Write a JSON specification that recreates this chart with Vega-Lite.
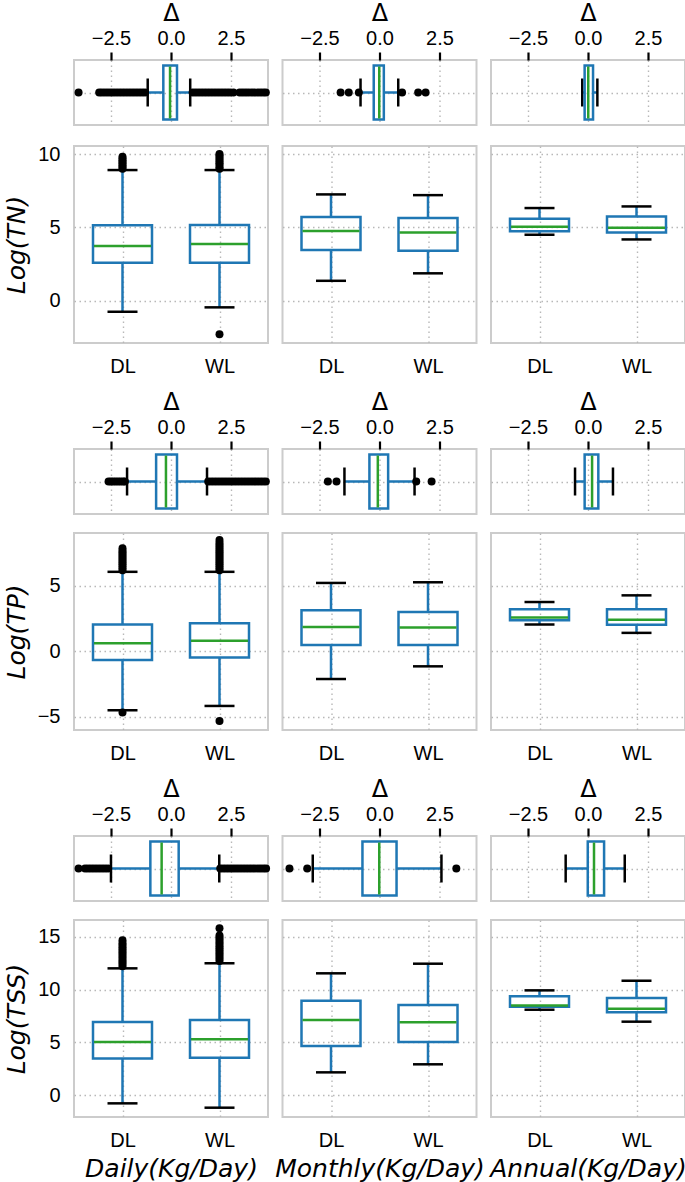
{
"$schema": "https://vega.github.io/schema/vega-lite/v6.json",
"background": "white",
"padding": {"left": 3, "top": 0, "right": 0, "bottom": 0},
"config": {
  "view": {"stroke": "#cccccc", "strokeWidth": 2},
  "tick": {"opacity": 1},
  "axis": {"labelFont": "Liberation Sans", "labelFontSize": 20, "labelColor": "black", "titleFont": "DejaVu Sans", "titleFontSize": 25, "titleFontStyle": "italic", "titleFontWeight": "normal", "titleColor": "black", "gridColor": "#b8b8b8", "gridDash": [1.5, 3.5], "gridWidth": 1.4, "domain": false, "ticks": false, "tickSize": 0}
},
"datasets": {
  "stats": [
    {"v":"TN","f":"D","g":"DL","lw":-0.75,"q1":2.59,"med":3.73,"q3":5.14,"uw":8.91},
    {"v":"TN","f":"D","g":"WL","lw":-0.45,"q1":2.59,"med":3.87,"q3":5.16,"uw":8.91},
    {"v":"TN","f":"D","g":"d","lw":-0.97,"q1":-0.32,"med":-0.04,"q3":0.25,"uw":0.80},
    {"v":"TN","f":"M","g":"DL","lw":1.36,"q1":3.46,"med":4.75,"q3":5.71,"uw":7.25},
    {"v":"TN","f":"M","g":"WL","lw":1.87,"q1":3.41,"med":4.66,"q3":5.64,"uw":7.20},
    {"v":"TN","f":"M","g":"d","lw":-0.79,"q1":-0.24,"med":-0.01,"q3":0.18,"uw":0.78},
    {"v":"TN","f":"A","g":"DL","lw":4.50,"q1":4.73,"med":5.05,"q3":5.59,"uw":6.32},
    {"v":"TN","f":"A","g":"WL","lw":4.18,"q1":4.66,"med":4.98,"q3":5.75,"uw":6.43},
    {"v":"TN","f":"A","g":"d","lw":-0.24,"q1":-0.14,"med":0.01,"q3":0.21,"uw":0.39},
    {"v":"TP","f":"D","g":"DL","lw":-4.51,"q1":-0.66,"med":0.62,"q3":2.05,"uw":6.08},
    {"v":"TP","f":"D","g":"WL","lw":-4.18,"q1":-0.48,"med":0.80,"q3":2.15,"uw":6.08},
    {"v":"TP","f":"D","g":"d","lw":-1.83,"q1":-0.62,"med":-0.21,"q3":0.25,"uw":1.50},
    {"v":"TP","f":"M","g":"DL","lw":-2.12,"q1":0.49,"med":1.85,"q3":3.15,"uw":5.23},
    {"v":"TP","f":"M","g":"WL","lw":-1.15,"q1":0.49,"med":1.82,"q3":3.00,"uw":5.28},
    {"v":"TP","f":"M","g":"d","lw":-1.46,"q1":-0.42,"med":-0.07,"q3":0.36,"uw":1.46},
    {"v":"TP","f":"A","g":"DL","lw":2.05,"q1":2.38,"med":2.59,"q3":3.21,"uw":3.77},
    {"v":"TP","f":"A","g":"WL","lw":1.41,"q1":2.03,"med":2.41,"q3":3.21,"uw":4.28},
    {"v":"TP","f":"A","g":"d","lw":-0.54,"q1":-0.14,"med":0.17,"q3":0.43,"uw":1.04},
    {"v":"TSS","f":"D","g":"DL","lw":-0.76,"q1":3.49,"med":5.04,"q3":6.93,"uw":12.0},
    {"v":"TSS","f":"D","g":"WL","lw":-1.17,"q1":3.56,"med":5.29,"q3":7.12,"uw":12.48},
    {"v":"TSS","f":"D","g":"d","lw":-2.50,"q1":-0.86,"med":-0.39,"q3":0.32,"uw":2.01},
    {"v":"TSS","f":"M","g":"DL","lw":2.17,"q1":4.66,"med":7.12,"q3":8.94,"uw":11.53},
    {"v":"TSS","f":"M","g":"WL","lw":2.93,"q1":5.04,"med":6.90,"q3":8.53,"uw":12.44},
    {"v":"TSS","f":"M","g":"d","lw":-2.78,"q1":-0.71,"med":-0.01,"q3":0.71,"uw":2.58},
    {"v":"TSS","f":"A","g":"DL","lw":8.09,"q1":8.38,"med":8.50,"q3":9.36,"uw":9.92},
    {"v":"TSS","f":"A","g":"WL","lw":6.96,"q1":7.84,"med":8.19,"q3":9.20,"uw":10.83},
    {"v":"TSS","f":"A","g":"d","lw":-0.93,"q1":-0.01,"med":0.25,"q3":0.67,"uw":1.53}
  ],
  "out": [
    {"v":"TN","f":"D","g":"DL","val":9.0},{"v":"TN","f":"D","g":"DL","val":9.12},{"v":"TN","f":"D","g":"DL","val":9.22},{"v":"TN","f":"D","g":"DL","val":9.35},{"v":"TN","f":"D","g":"DL","val":9.46},{"v":"TN","f":"D","g":"DL","val":9.58},{"v":"TN","f":"D","g":"DL","val":9.7},{"v":"TN","f":"D","g":"DL","val":9.82},
    {"v":"TN","f":"D","g":"WL","val":9.0},{"v":"TN","f":"D","g":"WL","val":9.1},{"v":"TN","f":"D","g":"WL","val":9.25},{"v":"TN","f":"D","g":"WL","val":9.38},{"v":"TN","f":"D","g":"WL","val":9.5},{"v":"TN","f":"D","g":"WL","val":9.63},{"v":"TN","f":"D","g":"WL","val":9.77},{"v":"TN","f":"D","g":"WL","val":9.9},{"v":"TN","f":"D","g":"WL","val":10.0},{"v":"TN","f":"D","g":"WL","val":-2.29},
    {"v":"TN","f":"D","g":"d","val":-3.85},{"v":"TN","f":"D","g":"d","val":-2.99},{"v":"TN","f":"D","g":"d","val":-2.88},{"v":"TN","f":"D","g":"d","val":-2.76},{"v":"TN","f":"D","g":"d","val":-2.64},{"v":"TN","f":"D","g":"d","val":-2.52},{"v":"TN","f":"D","g":"d","val":-2.4},{"v":"TN","f":"D","g":"d","val":-2.28},{"v":"TN","f":"D","g":"d","val":-2.16},{"v":"TN","f":"D","g":"d","val":-2.04},{"v":"TN","f":"D","g":"d","val":-1.92},{"v":"TN","f":"D","g":"d","val":-1.8},{"v":"TN","f":"D","g":"d","val":-1.68},{"v":"TN","f":"D","g":"d","val":-1.56},{"v":"TN","f":"D","g":"d","val":-1.44},{"v":"TN","f":"D","g":"d","val":-1.32},{"v":"TN","f":"D","g":"d","val":-1.2},{"v":"TN","f":"D","g":"d","val":-1.08},
    {"v":"TN","f":"D","g":"d","val":0.9},{"v":"TN","f":"D","g":"d","val":1.02},{"v":"TN","f":"D","g":"d","val":1.14},{"v":"TN","f":"D","g":"d","val":1.26},{"v":"TN","f":"D","g":"d","val":1.38},{"v":"TN","f":"D","g":"d","val":1.5},{"v":"TN","f":"D","g":"d","val":1.62},{"v":"TN","f":"D","g":"d","val":1.74},{"v":"TN","f":"D","g":"d","val":1.86},{"v":"TN","f":"D","g":"d","val":1.98},{"v":"TN","f":"D","g":"d","val":2.1},{"v":"TN","f":"D","g":"d","val":2.22},{"v":"TN","f":"D","g":"d","val":2.34},{"v":"TN","f":"D","g":"d","val":2.46},{"v":"TN","f":"D","g":"d","val":2.6},{"v":"TN","f":"D","g":"d","val":2.86},{"v":"TN","f":"D","g":"d","val":2.98},{"v":"TN","f":"D","g":"d","val":3.1},{"v":"TN","f":"D","g":"d","val":3.22},{"v":"TN","f":"D","g":"d","val":3.35},{"v":"TN","f":"D","g":"d","val":3.47},{"v":"TN","f":"D","g":"d","val":3.6},{"v":"TN","f":"D","g":"d","val":3.72},{"v":"TN","f":"D","g":"d","val":3.84},{"v":"TN","f":"D","g":"d","val":3.95},
    {"v":"TN","f":"M","g":"d","val":-1.62},{"v":"TN","f":"M","g":"d","val":-1.28},{"v":"TN","f":"M","g":"d","val":-0.86},{"v":"TN","f":"M","g":"d","val":0.94},{"v":"TN","f":"M","g":"d","val":1.61},{"v":"TN","f":"M","g":"d","val":1.92},
    {"v":"TP","f":"D","g":"DL","val":6.2},{"v":"TP","f":"D","g":"DL","val":6.35},{"v":"TP","f":"D","g":"DL","val":6.5},{"v":"TP","f":"D","g":"DL","val":6.65},{"v":"TP","f":"D","g":"DL","val":6.8},{"v":"TP","f":"D","g":"DL","val":6.95},{"v":"TP","f":"D","g":"DL","val":7.1},{"v":"TP","f":"D","g":"DL","val":7.25},{"v":"TP","f":"D","g":"DL","val":7.4},{"v":"TP","f":"D","g":"DL","val":7.55},{"v":"TP","f":"D","g":"DL","val":7.7},{"v":"TP","f":"D","g":"DL","val":7.88},{"v":"TP","f":"D","g":"DL","val":-4.69},
    {"v":"TP","f":"D","g":"WL","val":6.2},{"v":"TP","f":"D","g":"WL","val":6.35},{"v":"TP","f":"D","g":"WL","val":6.5},{"v":"TP","f":"D","g":"WL","val":6.65},{"v":"TP","f":"D","g":"WL","val":6.8},{"v":"TP","f":"D","g":"WL","val":6.95},{"v":"TP","f":"D","g":"WL","val":7.1},{"v":"TP","f":"D","g":"WL","val":7.25},{"v":"TP","f":"D","g":"WL","val":7.4},{"v":"TP","f":"D","g":"WL","val":7.55},{"v":"TP","f":"D","g":"WL","val":7.7},{"v":"TP","f":"D","g":"WL","val":7.85},{"v":"TP","f":"D","g":"WL","val":8.0},{"v":"TP","f":"D","g":"WL","val":8.15},{"v":"TP","f":"D","g":"WL","val":8.3},{"v":"TP","f":"D","g":"WL","val":8.52},{"v":"TP","f":"D","g":"WL","val":-5.33},
    {"v":"TP","f":"D","g":"d","val":-2.6},{"v":"TP","f":"D","g":"d","val":-2.5},{"v":"TP","f":"D","g":"d","val":-2.4},{"v":"TP","f":"D","g":"d","val":-2.3},{"v":"TP","f":"D","g":"d","val":-2.2},{"v":"TP","f":"D","g":"d","val":-2.1},{"v":"TP","f":"D","g":"d","val":-2.0},{"v":"TP","f":"D","g":"d","val":-1.92},
    {"v":"TP","f":"D","g":"d","val":1.55},{"v":"TP","f":"D","g":"d","val":1.67},{"v":"TP","f":"D","g":"d","val":1.79},{"v":"TP","f":"D","g":"d","val":1.91},{"v":"TP","f":"D","g":"d","val":2.03},{"v":"TP","f":"D","g":"d","val":2.15},{"v":"TP","f":"D","g":"d","val":2.27},{"v":"TP","f":"D","g":"d","val":2.39},{"v":"TP","f":"D","g":"d","val":2.51},{"v":"TP","f":"D","g":"d","val":2.63},{"v":"TP","f":"D","g":"d","val":2.75},{"v":"TP","f":"D","g":"d","val":2.87},{"v":"TP","f":"D","g":"d","val":2.99},{"v":"TP","f":"D","g":"d","val":3.11},{"v":"TP","f":"D","g":"d","val":3.23},{"v":"TP","f":"D","g":"d","val":3.35},{"v":"TP","f":"D","g":"d","val":3.47},{"v":"TP","f":"D","g":"d","val":3.59},{"v":"TP","f":"D","g":"d","val":3.71},{"v":"TP","f":"D","g":"d","val":3.83},{"v":"TP","f":"D","g":"d","val":3.95},
    {"v":"TP","f":"M","g":"d","val":-2.15},{"v":"TP","f":"M","g":"d","val":-1.79},{"v":"TP","f":"M","g":"d","val":1.53},{"v":"TP","f":"M","g":"d","val":2.17},
    {"v":"TSS","f":"D","g":"DL","val":12.2},{"v":"TSS","f":"D","g":"DL","val":12.4},{"v":"TSS","f":"D","g":"DL","val":12.6},{"v":"TSS","f":"D","g":"DL","val":12.8},{"v":"TSS","f":"D","g":"DL","val":13.0},{"v":"TSS","f":"D","g":"DL","val":13.2},{"v":"TSS","f":"D","g":"DL","val":13.4},{"v":"TSS","f":"D","g":"DL","val":13.6},{"v":"TSS","f":"D","g":"DL","val":13.8},{"v":"TSS","f":"D","g":"DL","val":14.0},{"v":"TSS","f":"D","g":"DL","val":14.2},{"v":"TSS","f":"D","g":"DL","val":14.4},{"v":"TSS","f":"D","g":"DL","val":14.65},
    {"v":"TSS","f":"D","g":"WL","val":12.7},{"v":"TSS","f":"D","g":"WL","val":12.9},{"v":"TSS","f":"D","g":"WL","val":13.1},{"v":"TSS","f":"D","g":"WL","val":13.3},{"v":"TSS","f":"D","g":"WL","val":13.5},{"v":"TSS","f":"D","g":"WL","val":13.7},{"v":"TSS","f":"D","g":"WL","val":13.9},{"v":"TSS","f":"D","g":"WL","val":14.1},{"v":"TSS","f":"D","g":"WL","val":14.3},{"v":"TSS","f":"D","g":"WL","val":14.5},{"v":"TSS","f":"D","g":"WL","val":14.7},{"v":"TSS","f":"D","g":"WL","val":14.9},{"v":"TSS","f":"D","g":"WL","val":15.1},{"v":"TSS","f":"D","g":"WL","val":15.78},
    {"v":"TSS","f":"D","g":"d","val":-3.85},{"v":"TSS","f":"D","g":"d","val":-3.58},{"v":"TSS","f":"D","g":"d","val":-3.46},{"v":"TSS","f":"D","g":"d","val":-3.34},{"v":"TSS","f":"D","g":"d","val":-3.22},{"v":"TSS","f":"D","g":"d","val":-3.1},{"v":"TSS","f":"D","g":"d","val":-2.98},{"v":"TSS","f":"D","g":"d","val":-2.86},{"v":"TSS","f":"D","g":"d","val":-2.74},{"v":"TSS","f":"D","g":"d","val":-2.62},
    {"v":"TSS","f":"D","g":"d","val":2.05},{"v":"TSS","f":"D","g":"d","val":2.17},{"v":"TSS","f":"D","g":"d","val":2.29},{"v":"TSS","f":"D","g":"d","val":2.41},{"v":"TSS","f":"D","g":"d","val":2.53},{"v":"TSS","f":"D","g":"d","val":2.65},{"v":"TSS","f":"D","g":"d","val":2.77},{"v":"TSS","f":"D","g":"d","val":2.89},{"v":"TSS","f":"D","g":"d","val":3.01},{"v":"TSS","f":"D","g":"d","val":3.13},{"v":"TSS","f":"D","g":"d","val":3.25},{"v":"TSS","f":"D","g":"d","val":3.37},{"v":"TSS","f":"D","g":"d","val":3.49},{"v":"TSS","f":"D","g":"d","val":3.61},{"v":"TSS","f":"D","g":"d","val":3.73},{"v":"TSS","f":"D","g":"d","val":3.85},{"v":"TSS","f":"D","g":"d","val":3.96},
    {"v":"TSS","f":"M","g":"d","val":-3.75},{"v":"TSS","f":"M","g":"d","val":-3.01},{"v":"TSS","f":"M","g":"d","val":3.2}
  ]
},
"spacing": 12,
"vconcat": [
 {"spacing": 17, "vconcat": [
  {"bounds": "flush", "spacing": 14.5, "hconcat": [
   {"width":194,"height":65,"data":{"name":"stats"},"transform":[{"filter":"datum.v=='TN' && datum.f=='D' && datum.g=='d'"}],
    "encoding":{"y":{"field":"g","type":"nominal","scale":{"type":"point","padding":0.5},"axis":{"title":null,"labels":false,"grid":true}}},
    "layer":[
     {"mark":{"type":"rule","color":"#1f77b4","strokeWidth":2.5},"encoding":{"x":{"field":"lw","type":"quantitative","scale":{"domain":[-4.04,4.04],"nice":false,"zero":false},"axis":{"orient":"top","title":"Δ","titleFontStyle":"normal","titleFontSize":24,"values":[-2.5,0,2.5],"format":".1f","ticks":true,"tickSize":8,"tickWidth":2.2,"tickColor":"black","labelPadding":4,"titlePadding":3,"grid":true}},"x2":{"field":"q1"}}},
     {"mark":{"type":"rule","color":"#1f77b4","strokeWidth":2.5},"encoding":{"x":{"field":"q3","type":"quantitative"},"x2":{"field":"uw"}}},
     {"mark":{"type":"tick","color":"black","size":28,"thickness":2.5},"encoding":{"x":{"field":"lw","type":"quantitative"}}},
     {"mark":{"type":"tick","color":"black","size":28,"thickness":2.5},"encoding":{"x":{"field":"uw","type":"quantitative"}}},
     {"mark":{"type":"bar","size":54,"fill":"white","fillOpacity":0,"stroke":"#1f77b4","strokeWidth":2.5},"encoding":{"x":{"field":"q1","type":"quantitative"},"x2":{"field":"q3"}}},
     {"mark":{"type":"tick","color":"#2ca02c","size":52,"thickness":2.5},"encoding":{"x":{"field":"med","type":"quantitative"}}},
     {"data":{"name":"out"},"transform":[{"filter":"datum.v=='TN' && datum.f=='D' && datum.g=='d'"}],"mark":{"type":"circle","color":"black","size":64,"opacity":1},"encoding":{"x":{"field":"val","type":"quantitative"}}}
    ]},
   {"width":194,"height":65,"data":{"name":"stats"},"transform":[{"filter":"datum.v=='TN' && datum.f=='M' && datum.g=='d'"}],
    "encoding":{"y":{"field":"g","type":"nominal","scale":{"type":"point","padding":0.5},"axis":{"title":null,"labels":false,"grid":true}}},
    "layer":[
     {"mark":{"type":"rule","color":"#1f77b4","strokeWidth":2.5},"encoding":{"x":{"field":"lw","type":"quantitative","scale":{"domain":[-4.04,4.04],"nice":false,"zero":false},"axis":{"orient":"top","title":"Δ","titleFontStyle":"normal","titleFontSize":24,"values":[-2.5,0,2.5],"format":".1f","ticks":true,"tickSize":8,"tickWidth":2.2,"tickColor":"black","labelPadding":4,"titlePadding":3,"grid":true}},"x2":{"field":"q1"}}},
     {"mark":{"type":"rule","color":"#1f77b4","strokeWidth":2.5},"encoding":{"x":{"field":"q3","type":"quantitative"},"x2":{"field":"uw"}}},
     {"mark":{"type":"tick","color":"black","size":28,"thickness":2.5},"encoding":{"x":{"field":"lw","type":"quantitative"}}},
     {"mark":{"type":"tick","color":"black","size":28,"thickness":2.5},"encoding":{"x":{"field":"uw","type":"quantitative"}}},
     {"mark":{"type":"bar","size":54,"fill":"white","fillOpacity":0,"stroke":"#1f77b4","strokeWidth":2.5},"encoding":{"x":{"field":"q1","type":"quantitative"},"x2":{"field":"q3"}}},
     {"mark":{"type":"tick","color":"#2ca02c","size":52,"thickness":2.5},"encoding":{"x":{"field":"med","type":"quantitative"}}},
     {"data":{"name":"out"},"transform":[{"filter":"datum.v=='TN' && datum.f=='M' && datum.g=='d'"}],"mark":{"type":"circle","color":"black","size":64,"opacity":1},"encoding":{"x":{"field":"val","type":"quantitative"}}}
    ]},
   {"width":194,"height":65,"data":{"name":"stats"},"transform":[{"filter":"datum.v=='TN' && datum.f=='A' && datum.g=='d'"}],
    "encoding":{"y":{"field":"g","type":"nominal","scale":{"type":"point","padding":0.5},"axis":{"title":null,"labels":false,"grid":true}}},
    "layer":[
     {"mark":{"type":"rule","color":"#1f77b4","strokeWidth":2.5},"encoding":{"x":{"field":"lw","type":"quantitative","scale":{"domain":[-4.04,4.04],"nice":false,"zero":false},"axis":{"orient":"top","title":"Δ","titleFontStyle":"normal","titleFontSize":24,"values":[-2.5,0,2.5],"format":".1f","ticks":true,"tickSize":8,"tickWidth":2.2,"tickColor":"black","labelPadding":4,"titlePadding":3,"grid":true}},"x2":{"field":"q1"}}},
     {"mark":{"type":"rule","color":"#1f77b4","strokeWidth":2.5},"encoding":{"x":{"field":"q3","type":"quantitative"},"x2":{"field":"uw"}}},
     {"mark":{"type":"tick","color":"black","size":28,"thickness":2.5},"encoding":{"x":{"field":"lw","type":"quantitative"}}},
     {"mark":{"type":"tick","color":"black","size":28,"thickness":2.5},"encoding":{"x":{"field":"uw","type":"quantitative"}}},
     {"mark":{"type":"bar","size":54,"fill":"white","fillOpacity":0,"stroke":"#1f77b4","strokeWidth":2.5},"encoding":{"x":{"field":"q1","type":"quantitative"},"x2":{"field":"q3"}}},
     {"mark":{"type":"tick","color":"#2ca02c","size":52,"thickness":2.5},"encoding":{"x":{"field":"med","type":"quantitative"}}}
    ]}
  ]},
  {"bounds": "flush", "spacing": 14.5, "hconcat": [
   {"width":194,"height":197,"data":{"name":"stats"},"transform":[{"filter":"datum.v=='TN' && datum.f=='D' && datum.g!='d'"}],
    "encoding":{"x":{"field":"g","type":"nominal","scale":{"type":"point","padding":0.5,"domain":["DL","WL"]},"axis":{"title":null,"labelAngle":0,"labelPadding":13,"grid":true}}},
    "layer":[
     {"mark":{"type":"rule","color":"#1f77b4","strokeWidth":2.5},"encoding":{"y":{"field":"lw","type":"quantitative","scale":{"domain":[-2.88,10.55],"nice":false,"zero":false},"axis":{"values":[0,5,10],"format":"d","title":"Log(TN)","minExtent":35,"maxExtent":35,"titlePadding":10,"labelPadding":14,"grid":true}},"y2":{"field":"q1"}}},
     {"mark":{"type":"rule","color":"#1f77b4","strokeWidth":2.5},"encoding":{"y":{"field":"q3","type":"quantitative"},"y2":{"field":"uw"}}},
     {"mark":{"type":"tick","color":"black","size":30,"thickness":2.5},"encoding":{"y":{"field":"lw","type":"quantitative"}}},
     {"mark":{"type":"tick","color":"black","size":30,"thickness":2.5},"encoding":{"y":{"field":"uw","type":"quantitative"}}},
     {"mark":{"type":"bar","size":59,"fill":"white","fillOpacity":0,"stroke":"#1f77b4","strokeWidth":2.5},"encoding":{"y":{"field":"q1","type":"quantitative"},"y2":{"field":"q3"}}},
     {"mark":{"type":"tick","color":"#2ca02c","size":57,"thickness":2.5},"encoding":{"y":{"field":"med","type":"quantitative"}}},
     {"data":{"name":"out"},"transform":[{"filter":"datum.v=='TN' && datum.f=='D' && datum.g!='d'"}],"mark":{"type":"circle","color":"black","size":64,"opacity":1},"encoding":{"y":{"field":"val","type":"quantitative"}}}
    ]},
   {"width":194,"height":197,"data":{"name":"stats"},"transform":[{"filter":"datum.v=='TN' && datum.f=='M' && datum.g!='d'"}],
    "encoding":{"x":{"field":"g","type":"nominal","scale":{"type":"point","padding":0.5,"domain":["DL","WL"]},"axis":{"title":null,"labelAngle":0,"labelPadding":13,"grid":true}}},
    "layer":[
     {"mark":{"type":"rule","color":"#1f77b4","strokeWidth":2.5},"encoding":{"y":{"field":"lw","type":"quantitative","scale":{"domain":[-2.88,10.55],"nice":false,"zero":false},"axis":{"values":[0,5,10],"labels":false,"title":null,"grid":true}},"y2":{"field":"q1"}}},
     {"mark":{"type":"rule","color":"#1f77b4","strokeWidth":2.5},"encoding":{"y":{"field":"q3","type":"quantitative"},"y2":{"field":"uw"}}},
     {"mark":{"type":"tick","color":"black","size":30,"thickness":2.5},"encoding":{"y":{"field":"lw","type":"quantitative"}}},
     {"mark":{"type":"tick","color":"black","size":30,"thickness":2.5},"encoding":{"y":{"field":"uw","type":"quantitative"}}},
     {"mark":{"type":"bar","size":59,"fill":"white","fillOpacity":0,"stroke":"#1f77b4","strokeWidth":2.5},"encoding":{"y":{"field":"q1","type":"quantitative"},"y2":{"field":"q3"}}},
     {"mark":{"type":"tick","color":"#2ca02c","size":57,"thickness":2.5},"encoding":{"y":{"field":"med","type":"quantitative"}}}
    ]},
   {"width":194,"height":197,"data":{"name":"stats"},"transform":[{"filter":"datum.v=='TN' && datum.f=='A' && datum.g!='d'"}],
    "encoding":{"x":{"field":"g","type":"nominal","scale":{"type":"point","padding":0.5,"domain":["DL","WL"]},"axis":{"title":null,"labelAngle":0,"labelPadding":13,"grid":true}}},
    "layer":[
     {"mark":{"type":"rule","color":"#1f77b4","strokeWidth":2.5},"encoding":{"y":{"field":"lw","type":"quantitative","scale":{"domain":[-2.88,10.55],"nice":false,"zero":false},"axis":{"values":[0,5,10],"labels":false,"title":null,"grid":true}},"y2":{"field":"q1"}}},
     {"mark":{"type":"rule","color":"#1f77b4","strokeWidth":2.5},"encoding":{"y":{"field":"q3","type":"quantitative"},"y2":{"field":"uw"}}},
     {"mark":{"type":"tick","color":"black","size":30,"thickness":2.5},"encoding":{"y":{"field":"lw","type":"quantitative"}}},
     {"mark":{"type":"tick","color":"black","size":30,"thickness":2.5},"encoding":{"y":{"field":"uw","type":"quantitative"}}},
     {"mark":{"type":"bar","size":59,"fill":"white","fillOpacity":0,"stroke":"#1f77b4","strokeWidth":2.5},"encoding":{"y":{"field":"q1","type":"quantitative"},"y2":{"field":"q3"}}},
     {"mark":{"type":"tick","color":"#2ca02c","size":57,"thickness":2.5},"encoding":{"y":{"field":"med","type":"quantitative"}}}
    ]}
  ]}
 ]},
 {"spacing": 17, "vconcat": [
  {"bounds": "flush", "spacing": 14.5, "hconcat": [
   {"width":194,"height":65,"data":{"name":"stats"},"transform":[{"filter":"datum.v=='TP' && datum.f=='D' && datum.g=='d'"}],
    "encoding":{"y":{"field":"g","type":"nominal","scale":{"type":"point","padding":0.5},"axis":{"title":null,"labels":false,"grid":true}}},
    "layer":[
     {"mark":{"type":"rule","color":"#1f77b4","strokeWidth":2.5},"encoding":{"x":{"field":"lw","type":"quantitative","scale":{"domain":[-4.04,4.04],"nice":false,"zero":false},"axis":{"orient":"top","title":"Δ","titleFontStyle":"normal","titleFontSize":24,"values":[-2.5,0,2.5],"format":".1f","ticks":true,"tickSize":8,"tickWidth":2.2,"tickColor":"black","labelPadding":4,"titlePadding":3,"grid":true}},"x2":{"field":"q1"}}},
     {"mark":{"type":"rule","color":"#1f77b4","strokeWidth":2.5},"encoding":{"x":{"field":"q3","type":"quantitative"},"x2":{"field":"uw"}}},
     {"mark":{"type":"tick","color":"black","size":28,"thickness":2.5},"encoding":{"x":{"field":"lw","type":"quantitative"}}},
     {"mark":{"type":"tick","color":"black","size":28,"thickness":2.5},"encoding":{"x":{"field":"uw","type":"quantitative"}}},
     {"mark":{"type":"bar","size":54,"fill":"white","fillOpacity":0,"stroke":"#1f77b4","strokeWidth":2.5},"encoding":{"x":{"field":"q1","type":"quantitative"},"x2":{"field":"q3"}}},
     {"mark":{"type":"tick","color":"#2ca02c","size":52,"thickness":2.5},"encoding":{"x":{"field":"med","type":"quantitative"}}},
     {"data":{"name":"out"},"transform":[{"filter":"datum.v=='TP' && datum.f=='D' && datum.g=='d'"}],"mark":{"type":"circle","color":"black","size":64,"opacity":1},"encoding":{"x":{"field":"val","type":"quantitative"}}}
    ]},
   {"width":194,"height":65,"data":{"name":"stats"},"transform":[{"filter":"datum.v=='TP' && datum.f=='M' && datum.g=='d'"}],
    "encoding":{"y":{"field":"g","type":"nominal","scale":{"type":"point","padding":0.5},"axis":{"title":null,"labels":false,"grid":true}}},
    "layer":[
     {"mark":{"type":"rule","color":"#1f77b4","strokeWidth":2.5},"encoding":{"x":{"field":"lw","type":"quantitative","scale":{"domain":[-4.04,4.04],"nice":false,"zero":false},"axis":{"orient":"top","title":"Δ","titleFontStyle":"normal","titleFontSize":24,"values":[-2.5,0,2.5],"format":".1f","ticks":true,"tickSize":8,"tickWidth":2.2,"tickColor":"black","labelPadding":4,"titlePadding":3,"grid":true}},"x2":{"field":"q1"}}},
     {"mark":{"type":"rule","color":"#1f77b4","strokeWidth":2.5},"encoding":{"x":{"field":"q3","type":"quantitative"},"x2":{"field":"uw"}}},
     {"mark":{"type":"tick","color":"black","size":28,"thickness":2.5},"encoding":{"x":{"field":"lw","type":"quantitative"}}},
     {"mark":{"type":"tick","color":"black","size":28,"thickness":2.5},"encoding":{"x":{"field":"uw","type":"quantitative"}}},
     {"mark":{"type":"bar","size":54,"fill":"white","fillOpacity":0,"stroke":"#1f77b4","strokeWidth":2.5},"encoding":{"x":{"field":"q1","type":"quantitative"},"x2":{"field":"q3"}}},
     {"mark":{"type":"tick","color":"#2ca02c","size":52,"thickness":2.5},"encoding":{"x":{"field":"med","type":"quantitative"}}},
     {"data":{"name":"out"},"transform":[{"filter":"datum.v=='TP' && datum.f=='M' && datum.g=='d'"}],"mark":{"type":"circle","color":"black","size":64,"opacity":1},"encoding":{"x":{"field":"val","type":"quantitative"}}}
    ]},
   {"width":194,"height":65,"data":{"name":"stats"},"transform":[{"filter":"datum.v=='TP' && datum.f=='A' && datum.g=='d'"}],
    "encoding":{"y":{"field":"g","type":"nominal","scale":{"type":"point","padding":0.5},"axis":{"title":null,"labels":false,"grid":true}}},
    "layer":[
     {"mark":{"type":"rule","color":"#1f77b4","strokeWidth":2.5},"encoding":{"x":{"field":"lw","type":"quantitative","scale":{"domain":[-4.04,4.04],"nice":false,"zero":false},"axis":{"orient":"top","title":"Δ","titleFontStyle":"normal","titleFontSize":24,"values":[-2.5,0,2.5],"format":".1f","ticks":true,"tickSize":8,"tickWidth":2.2,"tickColor":"black","labelPadding":4,"titlePadding":3,"grid":true}},"x2":{"field":"q1"}}},
     {"mark":{"type":"rule","color":"#1f77b4","strokeWidth":2.5},"encoding":{"x":{"field":"q3","type":"quantitative"},"x2":{"field":"uw"}}},
     {"mark":{"type":"tick","color":"black","size":28,"thickness":2.5},"encoding":{"x":{"field":"lw","type":"quantitative"}}},
     {"mark":{"type":"tick","color":"black","size":28,"thickness":2.5},"encoding":{"x":{"field":"uw","type":"quantitative"}}},
     {"mark":{"type":"bar","size":54,"fill":"white","fillOpacity":0,"stroke":"#1f77b4","strokeWidth":2.5},"encoding":{"x":{"field":"q1","type":"quantitative"},"x2":{"field":"q3"}}},
     {"mark":{"type":"tick","color":"#2ca02c","size":52,"thickness":2.5},"encoding":{"x":{"field":"med","type":"quantitative"}}}
    ]}
  ]},
  {"bounds": "flush", "spacing": 14.5, "hconcat": [
   {"width":194,"height":197,"data":{"name":"stats"},"transform":[{"filter":"datum.v=='TP' && datum.f=='D' && datum.g!='d'"}],
    "encoding":{"x":{"field":"g","type":"nominal","scale":{"type":"point","padding":0.5,"domain":["DL","WL"]},"axis":{"title":null,"labelAngle":0,"labelPadding":13,"grid":true}}},
    "layer":[
     {"mark":{"type":"rule","color":"#1f77b4","strokeWidth":2.5},"encoding":{"y":{"field":"lw","type":"quantitative","scale":{"domain":[-6.02,9.05],"nice":false,"zero":false},"axis":{"values":[-5,0,5],"format":"d","title":"Log(TP)","minExtent":35,"maxExtent":35,"titlePadding":10,"labelPadding":14,"grid":true}},"y2":{"field":"q1"}}},
     {"mark":{"type":"rule","color":"#1f77b4","strokeWidth":2.5},"encoding":{"y":{"field":"q3","type":"quantitative"},"y2":{"field":"uw"}}},
     {"mark":{"type":"tick","color":"black","size":30,"thickness":2.5},"encoding":{"y":{"field":"lw","type":"quantitative"}}},
     {"mark":{"type":"tick","color":"black","size":30,"thickness":2.5},"encoding":{"y":{"field":"uw","type":"quantitative"}}},
     {"mark":{"type":"bar","size":59,"fill":"white","fillOpacity":0,"stroke":"#1f77b4","strokeWidth":2.5},"encoding":{"y":{"field":"q1","type":"quantitative"},"y2":{"field":"q3"}}},
     {"mark":{"type":"tick","color":"#2ca02c","size":57,"thickness":2.5},"encoding":{"y":{"field":"med","type":"quantitative"}}},
     {"data":{"name":"out"},"transform":[{"filter":"datum.v=='TP' && datum.f=='D' && datum.g!='d'"}],"mark":{"type":"circle","color":"black","size":64,"opacity":1},"encoding":{"y":{"field":"val","type":"quantitative"}}}
    ]},
   {"width":194,"height":197,"data":{"name":"stats"},"transform":[{"filter":"datum.v=='TP' && datum.f=='M' && datum.g!='d'"}],
    "encoding":{"x":{"field":"g","type":"nominal","scale":{"type":"point","padding":0.5,"domain":["DL","WL"]},"axis":{"title":null,"labelAngle":0,"labelPadding":13,"grid":true}}},
    "layer":[
     {"mark":{"type":"rule","color":"#1f77b4","strokeWidth":2.5},"encoding":{"y":{"field":"lw","type":"quantitative","scale":{"domain":[-6.02,9.05],"nice":false,"zero":false},"axis":{"values":[-5,0,5],"labels":false,"title":null,"grid":true}},"y2":{"field":"q1"}}},
     {"mark":{"type":"rule","color":"#1f77b4","strokeWidth":2.5},"encoding":{"y":{"field":"q3","type":"quantitative"},"y2":{"field":"uw"}}},
     {"mark":{"type":"tick","color":"black","size":30,"thickness":2.5},"encoding":{"y":{"field":"lw","type":"quantitative"}}},
     {"mark":{"type":"tick","color":"black","size":30,"thickness":2.5},"encoding":{"y":{"field":"uw","type":"quantitative"}}},
     {"mark":{"type":"bar","size":59,"fill":"white","fillOpacity":0,"stroke":"#1f77b4","strokeWidth":2.5},"encoding":{"y":{"field":"q1","type":"quantitative"},"y2":{"field":"q3"}}},
     {"mark":{"type":"tick","color":"#2ca02c","size":57,"thickness":2.5},"encoding":{"y":{"field":"med","type":"quantitative"}}}
    ]},
   {"width":194,"height":197,"data":{"name":"stats"},"transform":[{"filter":"datum.v=='TP' && datum.f=='A' && datum.g!='d'"}],
    "encoding":{"x":{"field":"g","type":"nominal","scale":{"type":"point","padding":0.5,"domain":["DL","WL"]},"axis":{"title":null,"labelAngle":0,"labelPadding":13,"grid":true}}},
    "layer":[
     {"mark":{"type":"rule","color":"#1f77b4","strokeWidth":2.5},"encoding":{"y":{"field":"lw","type":"quantitative","scale":{"domain":[-6.02,9.05],"nice":false,"zero":false},"axis":{"values":[-5,0,5],"labels":false,"title":null,"grid":true}},"y2":{"field":"q1"}}},
     {"mark":{"type":"rule","color":"#1f77b4","strokeWidth":2.5},"encoding":{"y":{"field":"q3","type":"quantitative"},"y2":{"field":"uw"}}},
     {"mark":{"type":"tick","color":"black","size":30,"thickness":2.5},"encoding":{"y":{"field":"lw","type":"quantitative"}}},
     {"mark":{"type":"tick","color":"black","size":30,"thickness":2.5},"encoding":{"y":{"field":"uw","type":"quantitative"}}},
     {"mark":{"type":"bar","size":59,"fill":"white","fillOpacity":0,"stroke":"#1f77b4","strokeWidth":2.5},"encoding":{"y":{"field":"q1","type":"quantitative"},"y2":{"field":"q3"}}},
     {"mark":{"type":"tick","color":"#2ca02c","size":57,"thickness":2.5},"encoding":{"y":{"field":"med","type":"quantitative"}}}
    ]}
  ]}
 ]},
 {"spacing": 17, "vconcat": [
  {"bounds": "flush", "spacing": 14.5, "hconcat": [
   {"width":194,"height":65,"data":{"name":"stats"},"transform":[{"filter":"datum.v=='TSS' && datum.f=='D' && datum.g=='d'"}],
    "encoding":{"y":{"field":"g","type":"nominal","scale":{"type":"point","padding":0.5},"axis":{"title":null,"labels":false,"grid":true}}},
    "layer":[
     {"mark":{"type":"rule","color":"#1f77b4","strokeWidth":2.5},"encoding":{"x":{"field":"lw","type":"quantitative","scale":{"domain":[-4.04,4.04],"nice":false,"zero":false},"axis":{"orient":"top","title":"Δ","titleFontStyle":"normal","titleFontSize":24,"values":[-2.5,0,2.5],"format":".1f","ticks":true,"tickSize":8,"tickWidth":2.2,"tickColor":"black","labelPadding":4,"titlePadding":3,"grid":true}},"x2":{"field":"q1"}}},
     {"mark":{"type":"rule","color":"#1f77b4","strokeWidth":2.5},"encoding":{"x":{"field":"q3","type":"quantitative"},"x2":{"field":"uw"}}},
     {"mark":{"type":"tick","color":"black","size":28,"thickness":2.5},"encoding":{"x":{"field":"lw","type":"quantitative"}}},
     {"mark":{"type":"tick","color":"black","size":28,"thickness":2.5},"encoding":{"x":{"field":"uw","type":"quantitative"}}},
     {"mark":{"type":"bar","size":54,"fill":"white","fillOpacity":0,"stroke":"#1f77b4","strokeWidth":2.5},"encoding":{"x":{"field":"q1","type":"quantitative"},"x2":{"field":"q3"}}},
     {"mark":{"type":"tick","color":"#2ca02c","size":52,"thickness":2.5},"encoding":{"x":{"field":"med","type":"quantitative"}}},
     {"data":{"name":"out"},"transform":[{"filter":"datum.v=='TSS' && datum.f=='D' && datum.g=='d'"}],"mark":{"type":"circle","color":"black","size":64,"opacity":1},"encoding":{"x":{"field":"val","type":"quantitative"}}}
    ]},
   {"width":194,"height":65,"data":{"name":"stats"},"transform":[{"filter":"datum.v=='TSS' && datum.f=='M' && datum.g=='d'"}],
    "encoding":{"y":{"field":"g","type":"nominal","scale":{"type":"point","padding":0.5},"axis":{"title":null,"labels":false,"grid":true}}},
    "layer":[
     {"mark":{"type":"rule","color":"#1f77b4","strokeWidth":2.5},"encoding":{"x":{"field":"lw","type":"quantitative","scale":{"domain":[-4.04,4.04],"nice":false,"zero":false},"axis":{"orient":"top","title":"Δ","titleFontStyle":"normal","titleFontSize":24,"values":[-2.5,0,2.5],"format":".1f","ticks":true,"tickSize":8,"tickWidth":2.2,"tickColor":"black","labelPadding":4,"titlePadding":3,"grid":true}},"x2":{"field":"q1"}}},
     {"mark":{"type":"rule","color":"#1f77b4","strokeWidth":2.5},"encoding":{"x":{"field":"q3","type":"quantitative"},"x2":{"field":"uw"}}},
     {"mark":{"type":"tick","color":"black","size":28,"thickness":2.5},"encoding":{"x":{"field":"lw","type":"quantitative"}}},
     {"mark":{"type":"tick","color":"black","size":28,"thickness":2.5},"encoding":{"x":{"field":"uw","type":"quantitative"}}},
     {"mark":{"type":"bar","size":54,"fill":"white","fillOpacity":0,"stroke":"#1f77b4","strokeWidth":2.5},"encoding":{"x":{"field":"q1","type":"quantitative"},"x2":{"field":"q3"}}},
     {"mark":{"type":"tick","color":"#2ca02c","size":52,"thickness":2.5},"encoding":{"x":{"field":"med","type":"quantitative"}}},
     {"data":{"name":"out"},"transform":[{"filter":"datum.v=='TSS' && datum.f=='M' && datum.g=='d'"}],"mark":{"type":"circle","color":"black","size":64,"opacity":1},"encoding":{"x":{"field":"val","type":"quantitative"}}}
    ]},
   {"width":194,"height":65,"data":{"name":"stats"},"transform":[{"filter":"datum.v=='TSS' && datum.f=='A' && datum.g=='d'"}],
    "encoding":{"y":{"field":"g","type":"nominal","scale":{"type":"point","padding":0.5},"axis":{"title":null,"labels":false,"grid":true}}},
    "layer":[
     {"mark":{"type":"rule","color":"#1f77b4","strokeWidth":2.5},"encoding":{"x":{"field":"lw","type":"quantitative","scale":{"domain":[-4.04,4.04],"nice":false,"zero":false},"axis":{"orient":"top","title":"Δ","titleFontStyle":"normal","titleFontSize":24,"values":[-2.5,0,2.5],"format":".1f","ticks":true,"tickSize":8,"tickWidth":2.2,"tickColor":"black","labelPadding":4,"titlePadding":3,"grid":true}},"x2":{"field":"q1"}}},
     {"mark":{"type":"rule","color":"#1f77b4","strokeWidth":2.5},"encoding":{"x":{"field":"q3","type":"quantitative"},"x2":{"field":"uw"}}},
     {"mark":{"type":"tick","color":"black","size":28,"thickness":2.5},"encoding":{"x":{"field":"lw","type":"quantitative"}}},
     {"mark":{"type":"tick","color":"black","size":28,"thickness":2.5},"encoding":{"x":{"field":"uw","type":"quantitative"}}},
     {"mark":{"type":"bar","size":54,"fill":"white","fillOpacity":0,"stroke":"#1f77b4","strokeWidth":2.5},"encoding":{"x":{"field":"q1","type":"quantitative"},"x2":{"field":"q3"}}},
     {"mark":{"type":"tick","color":"#2ca02c","size":52,"thickness":2.5},"encoding":{"x":{"field":"med","type":"quantitative"}}}
    ]}
  ]},
  {"bounds": "flush", "spacing": 14.5, "hconcat": [
   {"width":194,"height":197,"data":{"name":"stats"},"transform":[{"filter":"datum.v=='TSS' && datum.f=='D' && datum.g!='d'"}],
    "encoding":{"x":{"field":"g","type":"nominal","scale":{"type":"point","padding":0.5,"domain":["DL","WL"]},"axis":{"title":"Daily(Kg/Day)","titlePadding":6,"labelAngle":0,"labelPadding":13,"grid":true}}},
    "layer":[
     {"mark":{"type":"rule","color":"#1f77b4","strokeWidth":2.5},"encoding":{"y":{"field":"lw","type":"quantitative","scale":{"domain":[-2.05,16.57],"nice":false,"zero":false},"axis":{"values":[0,5,10,15],"format":"d","title":"Log(TSS)","minExtent":35,"maxExtent":35,"titlePadding":10,"labelPadding":14,"grid":true}},"y2":{"field":"q1"}}},
     {"mark":{"type":"rule","color":"#1f77b4","strokeWidth":2.5},"encoding":{"y":{"field":"q3","type":"quantitative"},"y2":{"field":"uw"}}},
     {"mark":{"type":"tick","color":"black","size":30,"thickness":2.5},"encoding":{"y":{"field":"lw","type":"quantitative"}}},
     {"mark":{"type":"tick","color":"black","size":30,"thickness":2.5},"encoding":{"y":{"field":"uw","type":"quantitative"}}},
     {"mark":{"type":"bar","size":59,"fill":"white","fillOpacity":0,"stroke":"#1f77b4","strokeWidth":2.5},"encoding":{"y":{"field":"q1","type":"quantitative"},"y2":{"field":"q3"}}},
     {"mark":{"type":"tick","color":"#2ca02c","size":57,"thickness":2.5},"encoding":{"y":{"field":"med","type":"quantitative"}}},
     {"data":{"name":"out"},"transform":[{"filter":"datum.v=='TSS' && datum.f=='D' && datum.g!='d'"}],"mark":{"type":"circle","color":"black","size":64,"opacity":1},"encoding":{"y":{"field":"val","type":"quantitative"}}}
    ]},
   {"width":194,"height":197,"data":{"name":"stats"},"transform":[{"filter":"datum.v=='TSS' && datum.f=='M' && datum.g!='d'"}],
    "encoding":{"x":{"field":"g","type":"nominal","scale":{"type":"point","padding":0.5,"domain":["DL","WL"]},"axis":{"title":"Monthly(Kg/Day)","titlePadding":6,"labelAngle":0,"labelPadding":13,"grid":true}}},
    "layer":[
     {"mark":{"type":"rule","color":"#1f77b4","strokeWidth":2.5},"encoding":{"y":{"field":"lw","type":"quantitative","scale":{"domain":[-2.05,16.57],"nice":false,"zero":false},"axis":{"values":[0,5,10,15],"labels":false,"title":null,"grid":true}},"y2":{"field":"q1"}}},
     {"mark":{"type":"rule","color":"#1f77b4","strokeWidth":2.5},"encoding":{"y":{"field":"q3","type":"quantitative"},"y2":{"field":"uw"}}},
     {"mark":{"type":"tick","color":"black","size":30,"thickness":2.5},"encoding":{"y":{"field":"lw","type":"quantitative"}}},
     {"mark":{"type":"tick","color":"black","size":30,"thickness":2.5},"encoding":{"y":{"field":"uw","type":"quantitative"}}},
     {"mark":{"type":"bar","size":59,"fill":"white","fillOpacity":0,"stroke":"#1f77b4","strokeWidth":2.5},"encoding":{"y":{"field":"q1","type":"quantitative"},"y2":{"field":"q3"}}},
     {"mark":{"type":"tick","color":"#2ca02c","size":57,"thickness":2.5},"encoding":{"y":{"field":"med","type":"quantitative"}}}
    ]},
   {"width":194,"height":197,"data":{"name":"stats"},"transform":[{"filter":"datum.v=='TSS' && datum.f=='A' && datum.g!='d'"}],
    "encoding":{"x":{"field":"g","type":"nominal","scale":{"type":"point","padding":0.5,"domain":["DL","WL"]},"axis":{"title":"Annual(Kg/Day)","titlePadding":6,"labelAngle":0,"labelPadding":13,"grid":true}}},
    "layer":[
     {"mark":{"type":"rule","color":"#1f77b4","strokeWidth":2.5},"encoding":{"y":{"field":"lw","type":"quantitative","scale":{"domain":[-2.05,16.57],"nice":false,"zero":false},"axis":{"values":[0,5,10,15],"labels":false,"title":null,"grid":true}},"y2":{"field":"q1"}}},
     {"mark":{"type":"rule","color":"#1f77b4","strokeWidth":2.5},"encoding":{"y":{"field":"q3","type":"quantitative"},"y2":{"field":"uw"}}},
     {"mark":{"type":"tick","color":"black","size":30,"thickness":2.5},"encoding":{"y":{"field":"lw","type":"quantitative"}}},
     {"mark":{"type":"tick","color":"black","size":30,"thickness":2.5},"encoding":{"y":{"field":"uw","type":"quantitative"}}},
     {"mark":{"type":"bar","size":59,"fill":"white","fillOpacity":0,"stroke":"#1f77b4","strokeWidth":2.5},"encoding":{"y":{"field":"q1","type":"quantitative"},"y2":{"field":"q3"}}},
     {"mark":{"type":"tick","color":"#2ca02c","size":57,"thickness":2.5},"encoding":{"y":{"field":"med","type":"quantitative"}}}
    ]}
  ]}
 ]}
]
}
